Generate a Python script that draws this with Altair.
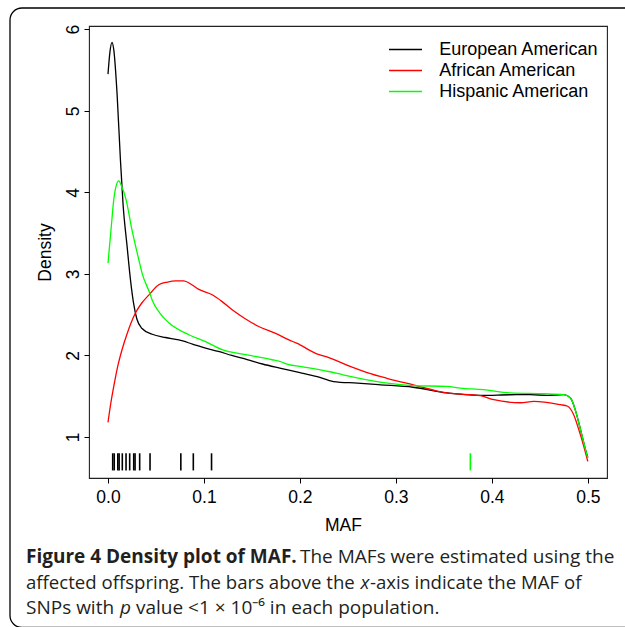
import altair as alt
import pandas as pd

# ---- data ----
series_names = ["European American", "African American", "Hispanic American"]
series_colors = ["#000000", "#FF0000", "#00FF00"]

ea_x = [0.000, 0.002, 0.0042, 0.006, 0.0094, 0.0129, 0.0157, 0.0198, 0.0234, 0.0265,
        0.030, 0.0355, 0.046, 0.060, 0.0738, 0.088, 0.1017, 0.115, 0.129, 0.145,
        0.161, 0.179, 0.200, 0.218, 0.235, 0.260, 0.2836, 0.318, 0.353, 0.388,
        0.419, 0.440, 0.4576, 0.475, 0.482, 0.487, 0.4924, 0.4976, 0.500]
ea_y = [5.45, 5.72, 5.84, 5.75, 5.22, 4.41, 3.85, 3.35, 2.93, 2.65,
        2.45, 2.33, 2.26, 2.22, 2.19, 2.14, 2.09, 2.05, 2.00, 1.95,
        1.895, 1.845, 1.79, 1.74, 1.68, 1.66, 1.64, 1.61, 1.54, 1.51,
        1.518, 1.52, 1.51, 1.52, 1.478, 1.33, 1.09, 0.845, 0.75]

aa_x = [0.000, 0.003, 0.006, 0.010, 0.0146, 0.020, 0.0286, 0.035, 0.0425, 0.0529,
        0.062, 0.0703, 0.079, 0.087, 0.0947, 0.1086, 0.119, 0.1294, 0.143, 0.157,
        0.1747, 0.1886, 0.1966, 0.2175, 0.2314, 0.2523, 0.270, 0.2906, 0.318, 0.353,
        0.388, 0.402, 0.430, 0.4436, 0.4715, 0.4785, 0.4854, 0.4906, 0.4958, 0.500]
aa_y = [1.18, 1.42, 1.62, 1.86, 2.07, 2.27, 2.52, 2.64, 2.74, 2.866,
        2.90, 2.915, 2.915, 2.87, 2.81, 2.744, 2.66, 2.56, 2.45, 2.355,
        2.27, 2.19, 2.15, 2.02, 1.968, 1.865, 1.79, 1.72, 1.64, 1.54,
        1.507, 1.457, 1.42, 1.436, 1.396, 1.38, 1.27, 1.09, 0.885, 0.70]

ha_x = [0.000, 0.0035, 0.006, 0.0085, 0.0112, 0.014, 0.0188, 0.025, 0.033, 0.0355,
        0.0435, 0.046, 0.054, 0.0634, 0.0842, 0.1017, 0.119, 0.1434, 0.171, 0.179,
        0.1886, 0.200, 0.2314, 0.245, 0.2836, 0.318, 0.353, 0.367, 0.391, 0.419,
        0.454, 0.475, 0.482, 0.487, 0.4924, 0.4976, 0.500]
ha_y = [3.13, 3.59, 3.91, 4.08, 4.14, 4.08, 3.91, 3.54, 3.13, 3.01,
        2.765, 2.68, 2.52, 2.40, 2.254, 2.17, 2.07, 2.01, 1.947, 1.927,
        1.886, 1.865, 1.80, 1.763, 1.674, 1.63, 1.62, 1.60, 1.58, 1.54,
        1.53, 1.52, 1.478, 1.33, 1.09, 0.845, 0.74]

ea_rug = [0.0049, 0.0065, 0.0102, 0.0116, 0.0149, 0.0188, 0.0226, 0.0268, 0.0282,
          0.0330, 0.0438, 0.0759, 0.0889, 0.1079]
ha_rug = [0.3776]

x_ticks = [0.0, 0.1, 0.2, 0.3, 0.4, 0.5]
y_ticks = [1, 2, 3, 4, 5, 6]

# ---- tables ----
rows = []
for name, xs, ys in [(series_names[0], ea_x, ea_y),
                     (series_names[1], aa_x, aa_y),
                     (series_names[2], ha_x, ha_y)]:
    for i, (a, b) in enumerate(zip(xs, ys)):
        rows.append({"pop": name, "MAF": a, "Density": b, "order": i})
dens = pd.DataFrame(rows)

rug = pd.DataFrame(
    [{"pop": series_names[0], "MAF": v} for v in ea_rug]
    + [{"pop": series_names[2], "MAF": v} for v in ha_rug]
)

W, H = 518, 452
AXFONT = "Liberation Sans"
CAPFONT = "Open Sans"

xscale = alt.Scale(domain=[-0.0198, 0.520], nice=False, zero=False)
yscale = alt.Scale(domain=[0.497, 6.04], nice=False, zero=False)
color = alt.Color(
    "pop:N",
    scale=alt.Scale(domain=series_names, range=series_colors),
    legend=alt.Legend(
        title=None, orient="none", legendX=307.5, legendY=14.5,
        symbolType="M-3.3,0H3.3", symbolSize=100, symbolStrokeWidth=1.3,
        labelFont=AXFONT, labelFontSize=18, labelColor="#000",
        labelOffset=24.8, rowPadding=3, padding=0,
    ),
)

lines = alt.Chart(dens).mark_line(strokeWidth=1.3, interpolate="monotone").encode(
    x=alt.X("MAF:Q", scale=xscale,
            axis=alt.Axis(values=x_ticks, format=".1f", title="MAF", domain=False,
                          grid=False, tickSize=5, tickColor="#000",
                          labelFont=AXFONT, labelFontSize=17.5, labelColor="#000",
                          labelBaseline="alphabetic", labelPadding=19.5,
                          titleFont=AXFONT, titleFontSize=17.5, titleFontWeight="normal",
                          titleColor="#000", titleX=254, titleY=52,
                          titleBaseline="alphabetic", titleAlign="center")),
    y=alt.Y("Density:Q", scale=yscale,
            axis=alt.Axis(values=y_ticks, format="d", title="Density", domain=False,
                          grid=False, tickSize=5, tickColor="#000",
                          labelFont=AXFONT, labelFontSize=17.5, labelColor="#000",
                          labelAngle=270, labelAlign="center",
                          labelBaseline="alphabetic", labelPadding=5.5,
                          titleFont=AXFONT, titleFontSize=17.5, titleFontWeight="normal",
                          titleColor="#000", titleX=-38.5, titleY=226,
                          titleBaseline="alphabetic", titleAlign="center", titleAngle=270)),
    color=color,
    order="order:Q",
)

rugs = alt.Chart(rug).mark_rule(strokeWidth=1.6).encode(
    x=alt.X("MAF:Q", scale=xscale),
    y=alt.Y(datum=0.59, scale=yscale),
    y2=alt.Y2(datum=0.80),
    color=alt.Color("pop:N", scale=alt.Scale(domain=series_names, range=series_colors), legend=None),
)

one = pd.DataFrame({"k": [0]})

frame = alt.Chart(one).mark_rect(fill=None, stroke="#000", strokeWidth=1.3, cornerRadius=12).encode(
    x=alt.value(-79), x2=alt.value(570), y=alt.value(-18), y2=alt.value(601.5)
)


def txt(s, x, y, size=19, weight="normal", style="normal"):
    return alt.Chart(one).mark_text(
        align="left", baseline="alphabetic", font=CAPFONT, fontSize=size,
        fontWeight=weight, fontStyle=style, color="#231f20"
    ).encode(x=alt.value(x), y=alt.value(y), text=alt.value(s))


L1, L2, L3 = 537.3, 562.8, 588.3
caption = [
    txt("Figure 4 Density plot of MAF.", -63, L1, weight="bold"),
    txt("The MAFs were estimated using the", 211, L1),
    txt("affected offspring. The bars above the", -63, L2, size=18.6),
    txt("x", 271.5, L2, size=18.6, style="italic"),
    txt("-axis indicate the MAF of", 281, L2, size=18.6),
    txt("SNPs with", -63, L3),
    txt("p", 31, L3, style="italic"),
    txt("value <1 × 10⁻⁶ in each population.", 47, L3),
]

chart = alt.layer(frame, lines, rugs, *caption).properties(
    width=W, height=H,
    autosize=alt.AutoSizeParams(type="none"),
    padding={"left": 89, "top": 26, "right": 18, "bottom": 149},
    background="white",
).configure_view(stroke="#222", strokeWidth=1.1)

chart.save("out.html", embed_options={"renderer": "svg", "actions": False})
